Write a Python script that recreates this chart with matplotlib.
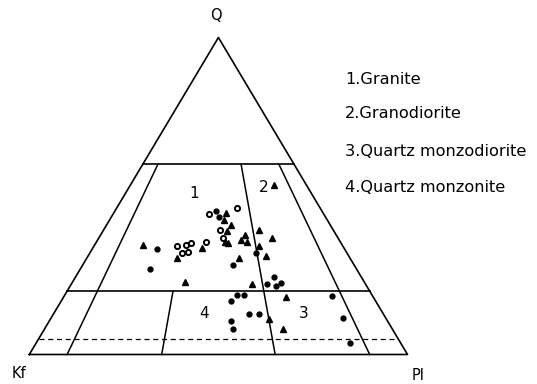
import numpy as np
import matplotlib.pyplot as plt

# QAP data (percent): Q = quartz, P = plagioclase, Kf = 100 - Q - P
q_dot = [33.4, 26.9, 45.2, 43.3, 32.1, 28.3, 24.4, 22.1, 21.6, 22.6,
         16.9, 18.7, 18.7, 12.8, 12.8, 10.6, 8.0, 18.4, 11.5, 3.7]
p_dot = [17.0, 18.5, 26.8, 28.6, 43.8, 39.8, 52.6, 51.9, 54.4, 55.3,
         44.9, 45.6, 47.4, 51.6, 54.4, 47.9, 49.9, 70.9, 77.1, 83.0]

q_ring = [34.2, 34.6, 35.1, 32.1, 32.4, 35.6, 44.2, 39.2, 36.8, 46.1]
p_ring = [21.9, 24.0, 25.3, 24.2, 25.8, 29.0, 25.3, 30.7, 32.7, 31.9]

q_tri = [34.5, 30.5, 33.7, 22.9, 44.7, 42.3, 39.1, 40.9, 35.5, 35.1, 36.1, 37.7,
         35.5, 39.4, 36.6, 34.3, 31.0, 30.5, 22.1, 53.5, 18.0, 11.1, 8.1]
p_tri = [12.7, 23.8, 28.9, 29.7, 29.6, 30.2, 32.8, 33.0, 33.9, 35.1, 37.9, 38.2,
         39.9, 41.1, 45.9, 43.6, 47.2, 40.1, 47.9, 38.0, 59.0, 57.8, 62.9]

# field boundaries
q_levels = [60, 20]
q_dashed = 5
ratios = [10, 35, 65, 90]          # P/(A+P) in percent
ratio_top = {10: 60, 35: 20, 65: 60, 90: 60}

field_names = ["1.Granite", "2.Granodiorite", "3.Quartz monzodiorite", "4.Quartz monzonite"]


def xy(q, p):
    q = np.asarray(q) / 100.0
    p = np.asarray(p) / 100.0
    return p + q / 2, q


def xy_ratio(q, r):
    q = q / 100.0
    r = r / 100.0
    return (1 - q) * r + q / 2, q


def edge_line(q, **kw):
    x0, y0 = xy_ratio(q, 0)
    x1, y1 = xy_ratio(q, 100)
    ax.plot([x0, x1], [y0, y1], **kw)


fig = plt.figure(figsize=(5.37, 3.84), dpi=100)
ax = fig.add_axes([0, 0, 1, 1])
ax.set_xlim(-0.0775, 1.3424)
ax.set_ylim(-0.0931, 1.1183)
ax.axis("off")

lc = "black"
ax.plot([0, 1, 0.5, 0], [0, 0, 1, 0], color=lc, lw=1.2)
for ql in q_levels:
    edge_line(ql, color=lc, lw=1.2)
edge_line(q_dashed, color=lc, lw=0.9, ls=(0, (4, 3)))
for r in ratios:
    x0, y0 = xy_ratio(0, r)
    x1, y1 = xy_ratio(ratio_top[r], r)
    ax.plot([x0, x1], [y0, y1], color=lc, lw=1.1)

x, y = xy(q_dot, p_dot)
ax.plot(x, y, "o", color="black", ms=3.5, ls="none")
x, y = xy(q_ring, p_ring)
ax.plot(x, y, "o", mfc="white", mec="black", mew=1.4, ms=3.7, ls="none")
x, y = xy(q_tri, p_tri)
ax.plot(x, y, "^", color="black", ms=3.9, ls="none")

# labels (pixel positions converted through the axes transform)
def px(xp, yp):
    return ax.transData.inverted().transform(fig.transFigure.transform((xp / 537, 1 - yp / 384)))

fs = 10.5
for txt, (xp, yp) in zip(["Q", "Kf", "Pl"], [(216, 15), (19, 374), (418, 375)]):
    ax.text(*px(xp, yp), txt, ha="center", va="center", fontsize=fs)
for txt, (xp, yp) in zip(["1", "2", "3", "4"], [(194, 194), (264, 187), (304, 313), (204, 313)]):
    ax.text(*px(xp, yp), txt, ha="center", va="center", fontsize=fs + 0.5)
for txt, yp in zip(field_names, [80, 113, 151.5, 188]):
    ax.text(*px(345, yp), txt, ha="left", va="center", fontsize=11.6)

fig.savefig("out.png", dpi=100, facecolor="white")
